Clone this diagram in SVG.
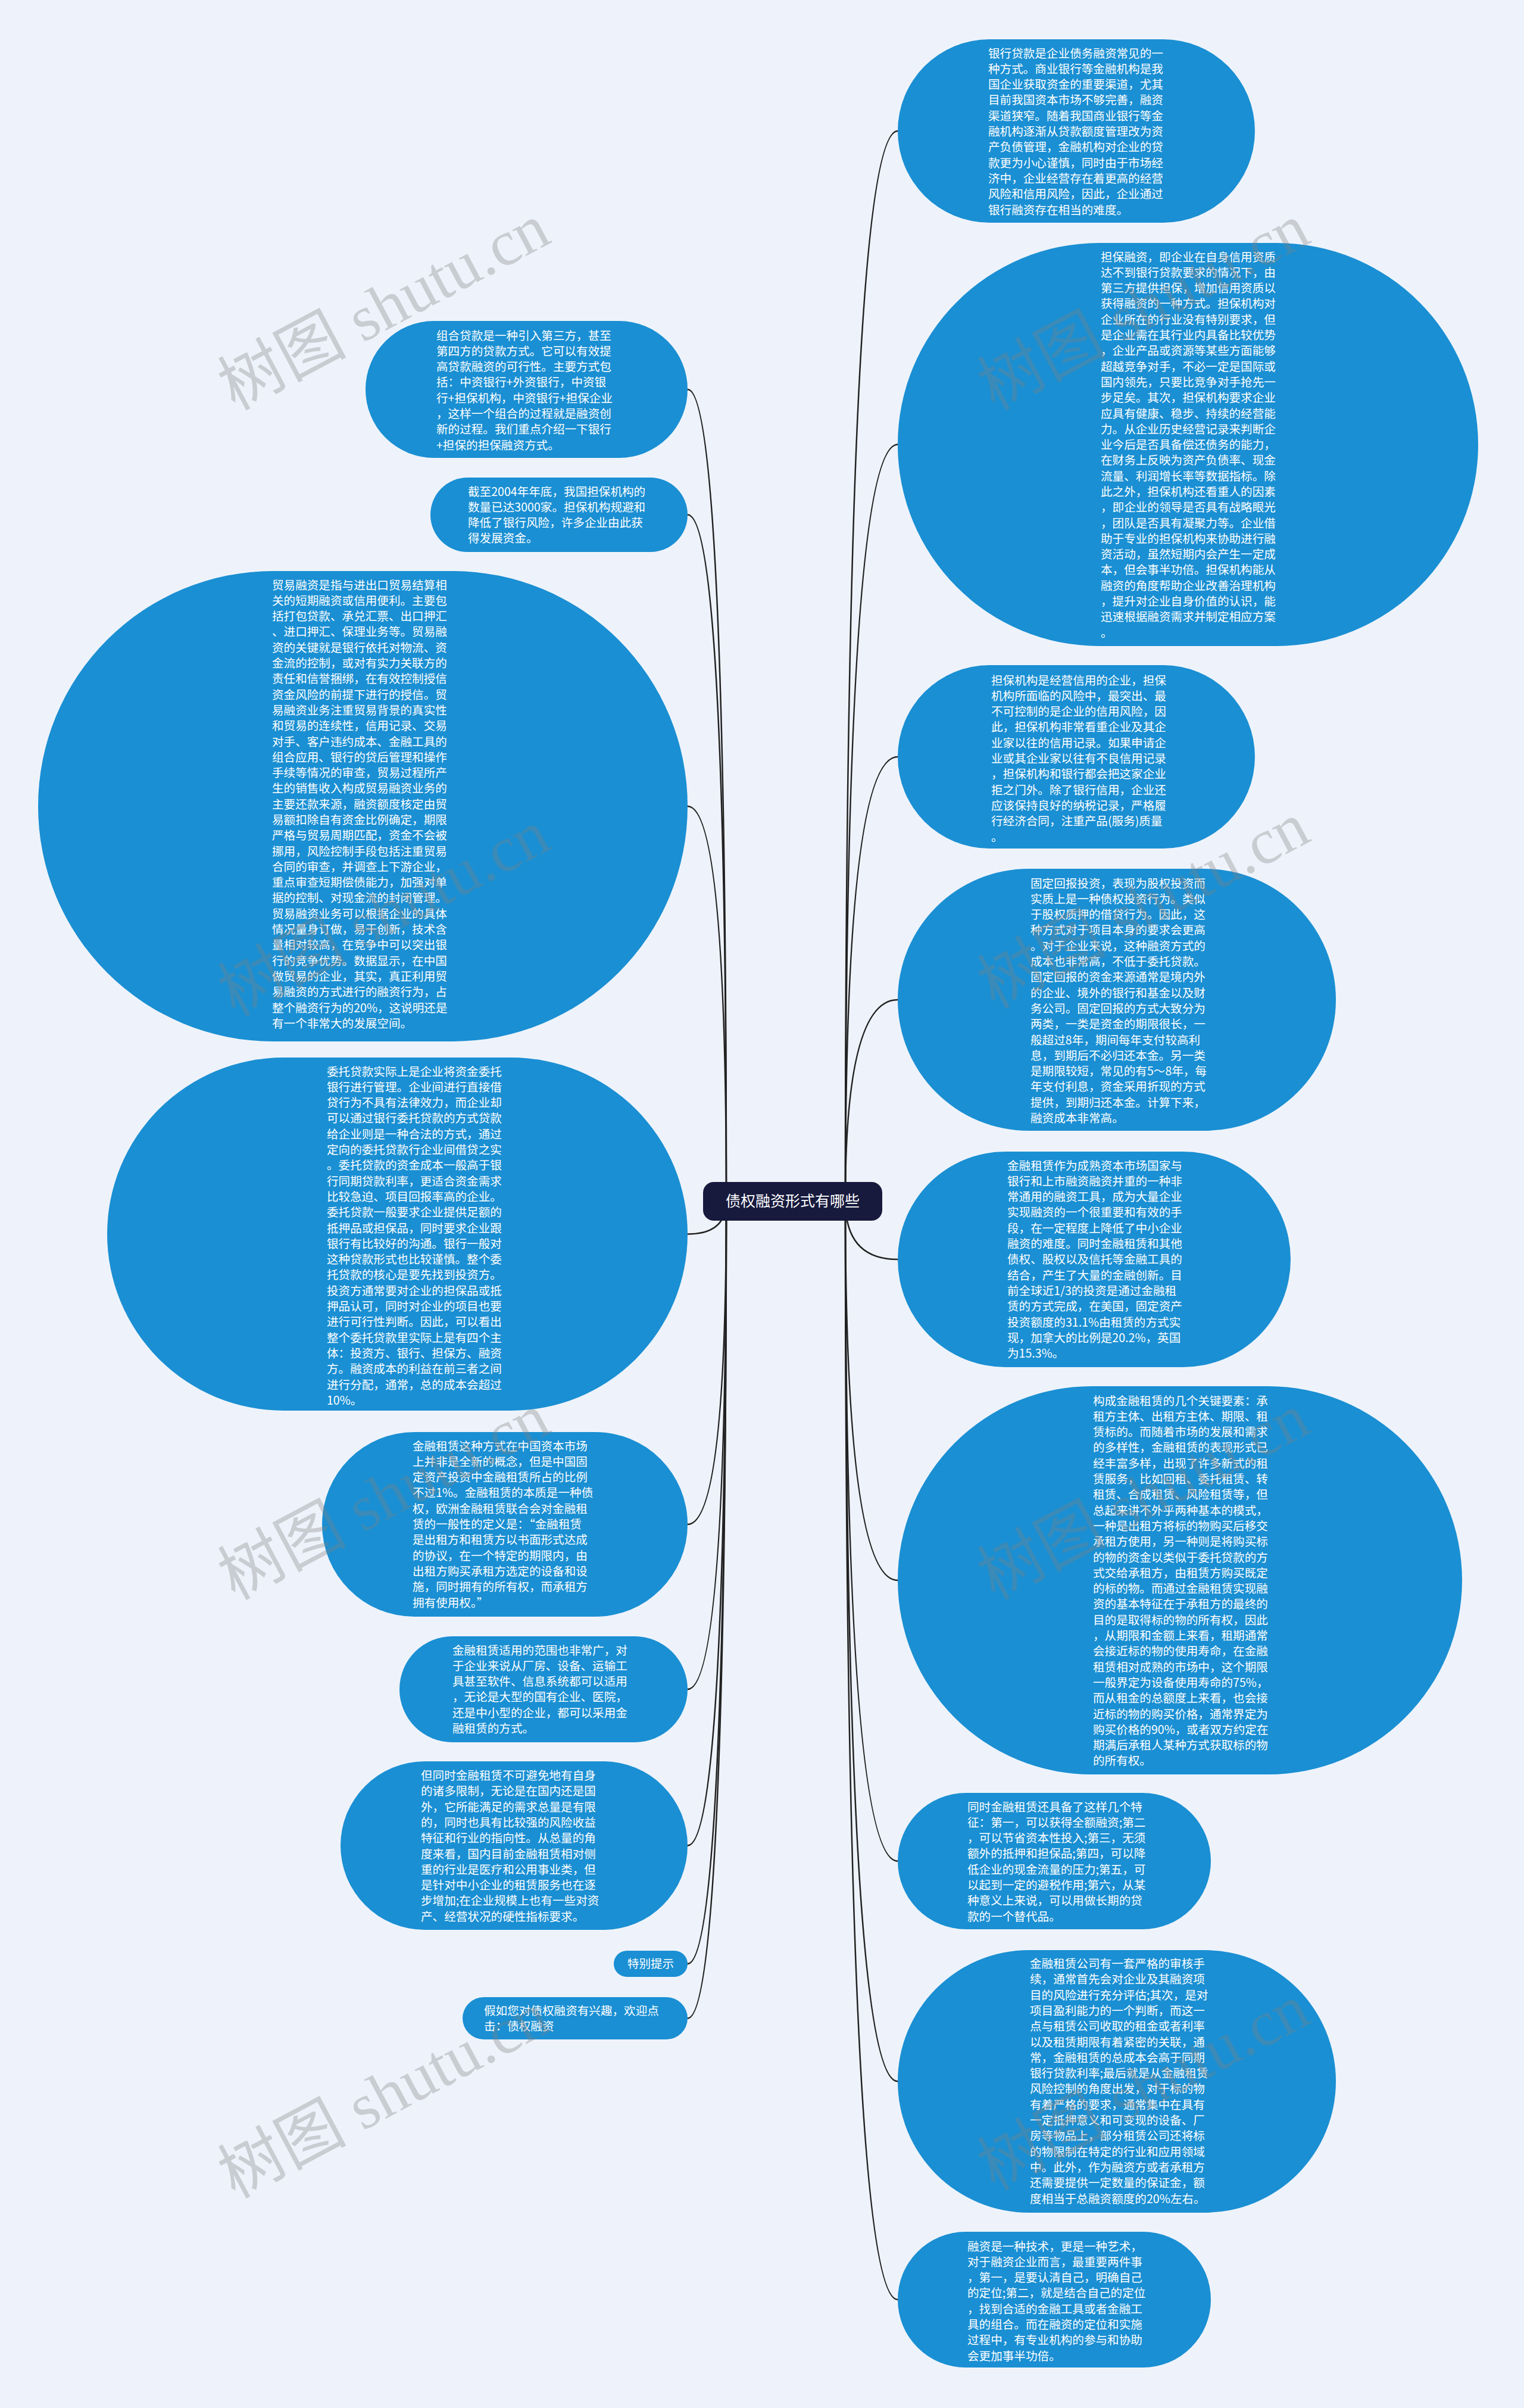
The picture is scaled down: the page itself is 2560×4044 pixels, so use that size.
<svg xmlns="http://www.w3.org/2000/svg" width="2560" height="4044" viewBox="0 0 2560 4044">
<style>
.bg{fill:#eef3fb}
.n{fill:#1a8fd3}
.t{font-family:"Noto Sans CJK SC","Noto Sans",sans-serif;font-size:19.6px;fill:#ffffff}
.c{fill:none;stroke:#222222;stroke-width:2.5}
.ct{font-family:"Noto Sans CJK SC","Noto Sans",sans-serif;font-size:25px;fill:#ffffff;text-anchor:middle}
.wm{font-family:"Liberation Serif","Noto Sans CJK SC",serif;font-size:108px;fill:#808080;fill-opacity:0.33;text-anchor:middle}
</style>
<rect class="bg" x="0" y="0" width="2560" height="4044"/>
<g id="connectors">
<path class="c" d="M1420 2017 Q1420 220 1508 220"/>
<path class="c" d="M1420 2017 Q1420 746.5 1508 746.5"/>
<path class="c" d="M1420 2017 Q1420 1271 1508 1271"/>
<path class="c" d="M1420 2017 Q1420 1679 1508 1679"/>
<path class="c" d="M1420 2017 Q1420 2115 1508 2115"/>
<path class="c" d="M1420 2017 Q1420 2654 1508 2654"/>
<path class="c" d="M1420 2017 Q1420 3125.5 1508 3125.5"/>
<path class="c" d="M1420 2017 Q1420 3495.5 1508 3495.5"/>
<path class="c" d="M1420 2017 Q1420 3862 1508 3862"/>
<path class="c" d="M1220 2017 Q1220 654 1155 654"/>
<path class="c" d="M1220 2017 Q1220 864.5 1155 864.5"/>
<path class="c" d="M1220 2017 Q1220 1354 1155 1354"/>
<path class="c" d="M1220 2017 Q1220 2072.5 1155 2072.5"/>
<path class="c" d="M1220 2017 Q1220 2560 1155 2560"/>
<path class="c" d="M1220 2017 Q1220 2837 1155 2837"/>
<path class="c" d="M1220 2017 Q1220 3099.5 1155 3099.5"/>
<path class="c" d="M1220 2017 Q1220 3298 1155 3298"/>
<path class="c" d="M1220 2017 Q1220 3389.5 1155 3389.5"/>
</g>
<g id="r1">
<rect class="n" x="1508" y="66" width="600" height="308" rx="154"/>
<text class="t" x="1660" y="96.5"><tspan x="1660" dy="0">银行贷款是企业债务融资常见的一</tspan><tspan x="1660" dy="26.3">种方式。商业银行等金融机构是我</tspan><tspan x="1660" dy="26.3">国企业获取资金的重要渠道，尤其</tspan><tspan x="1660" dy="26.3">目前我国资本市场不够完善，融资</tspan><tspan x="1660" dy="26.3">渠道狭窄。随着我国商业银行等金</tspan><tspan x="1660" dy="26.3">融机构逐渐从贷款额度管理改为资</tspan><tspan x="1660" dy="26.3">产负债管理，金融机构对企业的贷</tspan><tspan x="1660" dy="26.3">款更为小心谨慎，同时由于市场经</tspan><tspan x="1660" dy="26.3">济中，企业经营存在着更高的经营</tspan><tspan x="1660" dy="26.3">风险和信用风险，因此，企业通过</tspan><tspan x="1660" dy="26.3">银行融资存在相当的难度。</tspan></text>
</g>
<g id="r2">
<rect class="n" x="1508" y="408" width="975" height="677" rx="338.5"/>
<text class="t" x="1849" y="438.5"><tspan x="1849" dy="0">担保融资，即企业在自身信用资质</tspan><tspan x="1849" dy="26.3">达不到银行贷款要求的情况下，由</tspan><tspan x="1849" dy="26.3">第三方提供担保，增加信用资质以</tspan><tspan x="1849" dy="26.3">获得融资的一种方式。担保机构对</tspan><tspan x="1849" dy="26.3">企业所在的行业没有特别要求，但</tspan><tspan x="1849" dy="26.3">是企业需在其行业内具备比较优势</tspan><tspan x="1849" dy="26.3">，企业产品或资源等某些方面能够</tspan><tspan x="1849" dy="26.3">超越竞争对手，不必一定是国际或</tspan><tspan x="1849" dy="26.3">国内领先，只要比竞争对手抢先一</tspan><tspan x="1849" dy="26.3">步足矣。其次，担保机构要求企业</tspan><tspan x="1849" dy="26.3">应具有健康、稳步、持续的经营能</tspan><tspan x="1849" dy="26.3">力。从企业历史经营记录来判断企</tspan><tspan x="1849" dy="26.3">业今后是否具备偿还债务的能力，</tspan><tspan x="1849" dy="26.3">在财务上反映为资产负债率、现金</tspan><tspan x="1849" dy="26.3">流量、利润增长率等数据指标。除</tspan><tspan x="1849" dy="26.3">此之外，担保机构还看重人的因素</tspan><tspan x="1849" dy="26.3">，即企业的领导是否具有战略眼光</tspan><tspan x="1849" dy="26.3">，团队是否具有凝聚力等。企业借</tspan><tspan x="1849" dy="26.3">助于专业的担保机构来协助进行融</tspan><tspan x="1849" dy="26.3">资活动，虽然短期内会产生一定成</tspan><tspan x="1849" dy="26.3">本，但会事半功倍。担保机构能从</tspan><tspan x="1849" dy="26.3">融资的角度帮助企业改善治理机构</tspan><tspan x="1849" dy="26.3">，提升对企业自身价值的认识，能</tspan><tspan x="1849" dy="26.3">迅速根据融资需求并制定相应方案</tspan><tspan x="1849" dy="26.3">。</tspan></text>
</g>
<g id="r3">
<rect class="n" x="1508" y="1117" width="600" height="308" rx="154"/>
<text class="t" x="1665" y="1149.5"><tspan x="1665" dy="0">担保机构是经营信用的企业，担保</tspan><tspan x="1665" dy="26.3">机构所面临的风险中，最突出、最</tspan><tspan x="1665" dy="26.3">不可控制的是企业的信用风险，因</tspan><tspan x="1665" dy="26.3">此，担保机构非常看重企业及其企</tspan><tspan x="1665" dy="26.3">业家以往的信用记录。如果申请企</tspan><tspan x="1665" dy="26.3">业或其企业家以往有不良信用记录</tspan><tspan x="1665" dy="26.3">，担保机构和银行都会把这家企业</tspan><tspan x="1665" dy="26.3">拒之门外。除了银行信用，企业还</tspan><tspan x="1665" dy="26.3">应该保持良好的纳税记录，严格履</tspan><tspan x="1665" dy="26.3">行经济合同，注重产品(服务)质量</tspan><tspan x="1665" dy="26.3">。</tspan></text>
</g>
<g id="r4">
<rect class="n" x="1508" y="1459" width="736" height="440" rx="220"/>
<text class="t" x="1731" y="1490.5"><tspan x="1731" dy="0">固定回报投资，表现为股权投资而</tspan><tspan x="1731" dy="26.3">实质上是一种债权投资行为。类似</tspan><tspan x="1731" dy="26.3">于股权质押的借贷行为。因此，这</tspan><tspan x="1731" dy="26.3">种方式对于项目本身的要求会更高</tspan><tspan x="1731" dy="26.3">。对于企业来说，这种融资方式的</tspan><tspan x="1731" dy="26.3">成本也非常高，不低于委托贷款。</tspan><tspan x="1731" dy="26.3">固定回报的资金来源通常是境内外</tspan><tspan x="1731" dy="26.3">的企业、境外的银行和基金以及财</tspan><tspan x="1731" dy="26.3">务公司。固定回报的方式大致分为</tspan><tspan x="1731" dy="26.3">两类，一类是资金的期限很长，一</tspan><tspan x="1731" dy="26.3">般超过8年，期间每年支付较高利</tspan><tspan x="1731" dy="26.3">息，到期后不必归还本金。另一类</tspan><tspan x="1731" dy="26.3">是期限较短，常见的有5～8年，每</tspan><tspan x="1731" dy="26.3">年支付利息，资金采用折现的方式</tspan><tspan x="1731" dy="26.3">提供，到期归还本金。计算下来，</tspan><tspan x="1731" dy="26.3">融资成本非常高。</tspan></text>
</g>
<g id="r5">
<rect class="n" x="1508" y="1934" width="660" height="362" rx="181"/>
<text class="t" x="1692" y="1964.5"><tspan x="1692" dy="0">金融租赁作为成熟资本市场国家与</tspan><tspan x="1692" dy="26.3">银行和上市融资融资并重的一种非</tspan><tspan x="1692" dy="26.3">常通用的融资工具，成为大量企业</tspan><tspan x="1692" dy="26.3">实现融资的一个很重要和有效的手</tspan><tspan x="1692" dy="26.3">段，在一定程度上降低了中小企业</tspan><tspan x="1692" dy="26.3">融资的难度。同时金融租赁和其他</tspan><tspan x="1692" dy="26.3">债权、股权以及信托等金融工具的</tspan><tspan x="1692" dy="26.3">结合，产生了大量的金融创新。目</tspan><tspan x="1692" dy="26.3">前全球近1/3的投资是通过金融租</tspan><tspan x="1692" dy="26.3">赁的方式完成，在美国，固定资产</tspan><tspan x="1692" dy="26.3">投资额度的31.1%由租赁的方式实</tspan><tspan x="1692" dy="26.3">现，加拿大的比例是20.2%，英国</tspan><tspan x="1692" dy="26.3">为15.3%。</tspan></text>
</g>
<g id="r6">
<rect class="n" x="1508" y="2328" width="948" height="652" rx="326"/>
<text class="t" x="1836" y="2359.5"><tspan x="1836" dy="0">构成金融租赁的几个关键要素：承</tspan><tspan x="1836" dy="26.3">租方主体、出租方主体、期限、租</tspan><tspan x="1836" dy="26.3">赁标的。而随着市场的发展和需求</tspan><tspan x="1836" dy="26.3">的多样性，金融租赁的表现形式已</tspan><tspan x="1836" dy="26.3">经丰富多样，出现了许多新式的租</tspan><tspan x="1836" dy="26.3">赁服务，比如回租、委托租赁、转</tspan><tspan x="1836" dy="26.3">租赁、合成租赁、风险租赁等，但</tspan><tspan x="1836" dy="26.3">总起来讲不外乎两种基本的模式，</tspan><tspan x="1836" dy="26.3">一种是出租方将标的物购买后移交</tspan><tspan x="1836" dy="26.3">承租方使用，另一种则是将购买标</tspan><tspan x="1836" dy="26.3">的物的资金以类似于委托贷款的方</tspan><tspan x="1836" dy="26.3">式交给承租方，由租赁方购买既定</tspan><tspan x="1836" dy="26.3">的标的物。而通过金融租赁实现融</tspan><tspan x="1836" dy="26.3">资的基本特征在于承租方的最终的</tspan><tspan x="1836" dy="26.3">目的是取得标的物的所有权，因此</tspan><tspan x="1836" dy="26.3">，从期限和金额上来看，租期通常</tspan><tspan x="1836" dy="26.3">会接近标的物的使用寿命，在金融</tspan><tspan x="1836" dy="26.3">租赁相对成熟的市场中，这个期限</tspan><tspan x="1836" dy="26.3">一般界定为设备使用寿命的75%，</tspan><tspan x="1836" dy="26.3">而从租金的总额度上来看，也会接</tspan><tspan x="1836" dy="26.3">近标的物的购买价格，通常界定为</tspan><tspan x="1836" dy="26.3">购买价格的90%，或者双方约定在</tspan><tspan x="1836" dy="26.3">期满后承租人某种方式获取标的物</tspan><tspan x="1836" dy="26.3">的所有权。</tspan></text>
</g>
<g id="r7">
<rect class="n" x="1508" y="3011" width="526" height="229" rx="114.5"/>
<text class="t" x="1625" y="3041.5"><tspan x="1625" dy="0">同时金融租赁还具备了这样几个特</tspan><tspan x="1625" dy="26.3">征：第一，可以获得全额融资;第二</tspan><tspan x="1625" dy="26.3">，可以节省资本性投入;第三，无须</tspan><tspan x="1625" dy="26.3">额外的抵押和担保品;第四，可以降</tspan><tspan x="1625" dy="26.3">低企业的现金流量的压力;第五，可</tspan><tspan x="1625" dy="26.3">以起到一定的避税作用;第六，从某</tspan><tspan x="1625" dy="26.3">种意义上来说，可以用做长期的贷</tspan><tspan x="1625" dy="26.3">款的一个替代品。</tspan></text>
</g>
<g id="r8">
<rect class="n" x="1508" y="3275" width="736" height="441" rx="220.5"/>
<text class="t" x="1730" y="3305"><tspan x="1730" dy="0">金融租赁公司有一套严格的审核手</tspan><tspan x="1730" dy="26.3">续，通常首先会对企业及其融资项</tspan><tspan x="1730" dy="26.3">目的风险进行充分评估;其次，是对</tspan><tspan x="1730" dy="26.3">项目盈利能力的一个判断，而这一</tspan><tspan x="1730" dy="26.3">点与租赁公司收取的租金或者利率</tspan><tspan x="1730" dy="26.3">以及租赁期限有着紧密的关联，通</tspan><tspan x="1730" dy="26.3">常，金融租赁的总成本会高于同期</tspan><tspan x="1730" dy="26.3">银行贷款利率;最后就是从金融租赁</tspan><tspan x="1730" dy="26.3">风险控制的角度出发，对于标的物</tspan><tspan x="1730" dy="26.3">有着严格的要求，通常集中在具有</tspan><tspan x="1730" dy="26.3">一定抵押意义和可变现的设备、厂</tspan><tspan x="1730" dy="26.3">房等物品上，部分租赁公司还将标</tspan><tspan x="1730" dy="26.3">的物限制在特定的行业和应用领域</tspan><tspan x="1730" dy="26.3">中。此外，作为融资方或者承租方</tspan><tspan x="1730" dy="26.3">还需要提供一定数量的保证金，额</tspan><tspan x="1730" dy="26.3">度相当于总融资额度的20%左右。</tspan></text>
</g>
<g id="r9">
<rect class="n" x="1508" y="3748" width="526" height="228" rx="114"/>
<text class="t" x="1625" y="3779.5"><tspan x="1625" dy="0">融资是一种技术，更是一种艺术，</tspan><tspan x="1625" dy="26.3">对于融资企业而言，最重要两件事</tspan><tspan x="1625" dy="26.3">，第一，是要认清自己，明确自己</tspan><tspan x="1625" dy="26.3">的定位;第二，就是结合自己的定位</tspan><tspan x="1625" dy="26.3">，找到合适的金融工具或者金融工</tspan><tspan x="1625" dy="26.3">具的组合。而在融资的定位和实施</tspan><tspan x="1625" dy="26.3">过程中，有专业机构的参与和协助</tspan><tspan x="1625" dy="26.3">会更加事半功倍。</tspan></text>
</g>
<g id="l1">
<rect class="n" x="614" y="539" width="541" height="230" rx="115"/>
<text class="t" x="733" y="570.5"><tspan x="733" dy="0">组合贷款是一种引入第三方，甚至</tspan><tspan x="733" dy="26.3">第四方的贷款方式。它可以有效提</tspan><tspan x="733" dy="26.3">高贷款融资的可行性。主要方式包</tspan><tspan x="733" dy="26.3">括：中资银行+外资银行，中资银</tspan><tspan x="733" dy="26.3">行+担保机构，中资银行+担保企业</tspan><tspan x="733" dy="26.3">，这样一个组合的过程就是融资创</tspan><tspan x="733" dy="26.3">新的过程。我们重点介绍一下银行</tspan><tspan x="733" dy="26.3">+担保的担保融资方式。</tspan></text>
</g>
<g id="l2">
<rect class="n" x="723" y="802" width="432" height="125" rx="62.5"/>
<text class="t" x="786" y="832.5"><tspan x="786" dy="0">截至2004年年底，我国担保机构的</tspan><tspan x="786" dy="26.3">数量已达3000家。担保机构规避和</tspan><tspan x="786" dy="26.3">降低了银行风险，许多企业由此获</tspan><tspan x="786" dy="26.3">得发展资金。</tspan></text>
</g>
<g id="l3">
<rect class="n" x="64" y="959" width="1091" height="790" rx="395"/>
<text class="t" x="457" y="989.5"><tspan x="457" dy="0">贸易融资是指与进出口贸易结算相</tspan><tspan x="457" dy="26.3">关的短期融资或信用便利。主要包</tspan><tspan x="457" dy="26.3">括打包贷款、承兑汇票、出口押汇</tspan><tspan x="457" dy="26.3">、进口押汇、保理业务等。贸易融</tspan><tspan x="457" dy="26.3">资的关键就是银行依托对物流、资</tspan><tspan x="457" dy="26.3">金流的控制，或对有实力关联方的</tspan><tspan x="457" dy="26.3">责任和信誉捆绑，在有效控制授信</tspan><tspan x="457" dy="26.3">资金风险的前提下进行的授信。贸</tspan><tspan x="457" dy="26.3">易融资业务注重贸易背景的真实性</tspan><tspan x="457" dy="26.3">和贸易的连续性，信用记录、交易</tspan><tspan x="457" dy="26.3">对手、客户违约成本、金融工具的</tspan><tspan x="457" dy="26.3">组合应用、银行的贷后管理和操作</tspan><tspan x="457" dy="26.3">手续等情况的审查，贸易过程所产</tspan><tspan x="457" dy="26.3">生的销售收入构成贸易融资业务的</tspan><tspan x="457" dy="26.3">主要还款来源，融资额度核定由贸</tspan><tspan x="457" dy="26.3">易额扣除自有资金比例确定，期限</tspan><tspan x="457" dy="26.3">严格与贸易周期匹配，资金不会被</tspan><tspan x="457" dy="26.3">挪用，风险控制手段包括注重贸易</tspan><tspan x="457" dy="26.3">合同的审查，并调查上下游企业，</tspan><tspan x="457" dy="26.3">重点审查短期偿债能力，加强对单</tspan><tspan x="457" dy="26.3">据的控制、对现金流的封闭管理。</tspan><tspan x="457" dy="26.3">贸易融资业务可以根据企业的具体</tspan><tspan x="457" dy="26.3">情况量身订做，易于创新，技术含</tspan><tspan x="457" dy="26.3">量相对较高，在竞争中可以突出银</tspan><tspan x="457" dy="26.3">行的竞争优势。数据显示，在中国</tspan><tspan x="457" dy="26.3">做贸易的企业，其实，真正利用贸</tspan><tspan x="457" dy="26.3">易融资的方式进行的融资行为，占</tspan><tspan x="457" dy="26.3">整个融资行为的20%，这说明还是</tspan><tspan x="457" dy="26.3">有一个非常大的发展空间。</tspan></text>
</g>
<g id="l4">
<rect class="n" x="180" y="1776" width="975" height="593" rx="296.5"/>
<text class="t" x="549" y="1806.5"><tspan x="549" dy="0">委托贷款实际上是企业将资金委托</tspan><tspan x="549" dy="26.3">银行进行管理。企业间进行直接借</tspan><tspan x="549" dy="26.3">贷行为不具有法律效力，而企业却</tspan><tspan x="549" dy="26.3">可以通过银行委托贷款的方式贷款</tspan><tspan x="549" dy="26.3">给企业则是一种合法的方式，通过</tspan><tspan x="549" dy="26.3">定向的委托贷款行企业间借贷之实</tspan><tspan x="549" dy="26.3">。委托贷款的资金成本一般高于银</tspan><tspan x="549" dy="26.3">行同期贷款利率，更适合资金需求</tspan><tspan x="549" dy="26.3">比较急迫、项目回报率高的企业。</tspan><tspan x="549" dy="26.3">委托贷款一般要求企业提供足额的</tspan><tspan x="549" dy="26.3">抵押品或担保品，同时要求企业跟</tspan><tspan x="549" dy="26.3">银行有比较好的沟通。银行一般对</tspan><tspan x="549" dy="26.3">这种贷款形式也比较谨慎。整个委</tspan><tspan x="549" dy="26.3">托贷款的核心是要先找到投资方。</tspan><tspan x="549" dy="26.3">投资方通常要对企业的担保品或抵</tspan><tspan x="549" dy="26.3">押品认可，同时对企业的项目也要</tspan><tspan x="549" dy="26.3">进行可行性判断。因此，可以看出</tspan><tspan x="549" dy="26.3">整个委托贷款里实际上是有四个主</tspan><tspan x="549" dy="26.3">体：投资方、银行、担保方、融资</tspan><tspan x="549" dy="26.3">方。融资成本的利益在前三者之间</tspan><tspan x="549" dy="26.3">进行分配，通常，总的成本会超过</tspan><tspan x="549" dy="26.3">10%。</tspan></text>
</g>
<g id="l5">
<rect class="n" x="541" y="2405" width="614" height="310" rx="155"/>
<text class="t" x="693" y="2435.5"><tspan x="693" dy="0">金融租赁这种方式在中国资本市场</tspan><tspan x="693" dy="26.3">上并非是全新的概念，但是中国固</tspan><tspan x="693" dy="26.3">定资产投资中金融租赁所占的比例</tspan><tspan x="693" dy="26.3">不过1%。金融租赁的本质是一种债</tspan><tspan x="693" dy="26.3">权，欧洲金融租赁联合会对金融租</tspan><tspan x="693" dy="26.3">赁的一般性的定义是：“金融租赁</tspan><tspan x="693" dy="26.3">是出租方和租赁方以书面形式达成</tspan><tspan x="693" dy="26.3">的协议，在一个特定的期限内，由</tspan><tspan x="693" dy="26.3">出租方购买承租方选定的设备和设</tspan><tspan x="693" dy="26.3">施，同时拥有的所有权，而承租方</tspan><tspan x="693" dy="26.3">拥有使用权。”</tspan></text>
</g>
<g id="l6">
<rect class="n" x="671" y="2748" width="484" height="178" rx="89"/>
<text class="t" x="760" y="2778.5"><tspan x="760" dy="0">金融租赁适用的范围也非常广，对</tspan><tspan x="760" dy="26.3">于企业来说从厂房、设备、运输工</tspan><tspan x="760" dy="26.3">具甚至软件、信息系统都可以适用</tspan><tspan x="760" dy="26.3">，无论是大型的国有企业、医院，</tspan><tspan x="760" dy="26.3">还是中小型的企业，都可以采用金</tspan><tspan x="760" dy="26.3">融租赁的方式。</tspan></text>
</g>
<g id="l7">
<rect class="n" x="572" y="2958" width="583" height="283" rx="141.5"/>
<text class="t" x="707" y="2989"><tspan x="707" dy="0">但同时金融租赁不可避免地有自身</tspan><tspan x="707" dy="26.3">的诸多限制，无论是在国内还是国</tspan><tspan x="707" dy="26.3">外，它所能满足的需求总量是有限</tspan><tspan x="707" dy="26.3">的，同时也具有比较强的风险收益</tspan><tspan x="707" dy="26.3">特征和行业的指向性。从总量的角</tspan><tspan x="707" dy="26.3">度来看，国内目前金融租赁相对侧</tspan><tspan x="707" dy="26.3">重的行业是医疗和公用事业类，但</tspan><tspan x="707" dy="26.3">是针对中小企业的租赁服务也在逐</tspan><tspan x="707" dy="26.3">步增加;在企业规模上也有一些对资</tspan><tspan x="707" dy="26.3">产、经营状况的硬性指标要求。</tspan></text>
</g>
<g id="l8">
<rect class="n" x="1031" y="3276" width="124" height="44" rx="22"/>
<text class="t" x="1093" y="3304.5" text-anchor="middle">特别提示</text>
</g>
<g id="l9">
<rect class="n" x="777" y="3354" width="378" height="71" rx="35.5"/>
<text class="t" x="813" y="3383.5"><tspan x="813" dy="0">假如您对债权融资有兴趣，欢迎点</tspan><tspan x="813" dy="26.3">击：债权融资</tspan></text>
</g>
<g id="center">
<rect x="1181" y="1985" width="301" height="65" rx="18" fill="#171a3d"/>
<text class="ct" x="1331.5" y="2026">债权融资形式有哪些</text>
</g>
<g id="watermarks">
<text class="wm" x="645" y="552" transform="rotate(-28 645 516)">树图 shutu.cn</text>
<text class="wm" x="1921" y="552" transform="rotate(-28 1921 516)">树图 shutu.cn</text>
<text class="wm" x="645" y="1570" transform="rotate(-28 645 1534)">树图 shutu.cn</text>
<text class="wm" x="1921" y="1557" transform="rotate(-28 1921 1521)">树图 shutu.cn</text>
<text class="wm" x="645" y="2550" transform="rotate(-28 645 2514)">树图 shutu.cn</text>
<text class="wm" x="1921" y="2550" transform="rotate(-28 1921 2514)">树图 shutu.cn</text>
<text class="wm" x="645" y="3555" transform="rotate(-28 645 3519)">树图 shutu.cn</text>
<text class="wm" x="1921" y="3542" transform="rotate(-28 1921 3506)">树图 shutu.cn</text>
</g>
</svg>
